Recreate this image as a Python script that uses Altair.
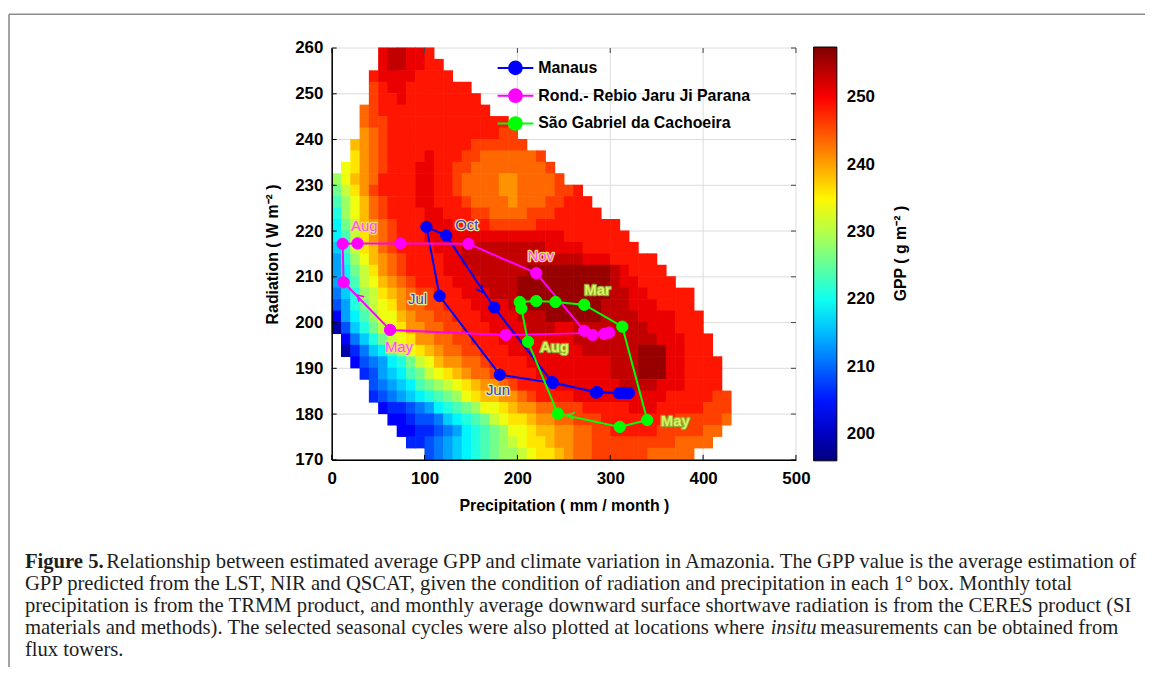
import altair as alt
import pandas as pd

# ---------------- values ----------------
SITES = ["Manaus", "Rond.- Rebio Jaru Ji Parana", "São Gabriel da Cachoeira"]
SITE_COLORS = ["#0000ff", "#ff00ff", "#00ff00"]

# seasonal cycles (precipitation mm/month, radiation W m-2), in plotting order
MANAUS_PRECIP = [181.0, 116.2, 102.0, 123.3, 175.0, 237.4, 284.5, 309.4, 320.0, 315.0, 286.0, 238.0]
MANAUS_RAD = [188.6, 205.8, 220.9, 219.0, 203.3, 187.0, 184.7, 184.6, 184.6, 184.6, 184.8, 186.8]

ROND_PRECIP = [62.8, 12.8, 11.8, 27.8, 74.1, 147.3, 220.3, 272.0, 281.0, 293.4, 298.7, 187.5]
ROND_RAD = [198.4, 208.8, 217.2, 217.3, 217.3, 217.2, 210.8, 198.2, 197.3, 197.5, 197.8, 197.3]

SG_PRECIP = [339.8, 310.2, 243.5, 211.4, 204.3, 202.5, 220.3, 241.0, 272.0, 313.0]
SG_RAD = [178.7, 177.2, 180.1, 195.8, 203.1, 204.5, 204.7, 204.5, 203.9, 199.1]

# month labels
MANAUS_LABELS = ["Oct", "Jul", "Jun"]
MANAUS_LABEL_P = [145.5, 92.5, 179.0]
MANAUS_LABEL_R = [221.3, 205.1, 185.2]
ROND_LABELS = ["Aug", "May", "Nov"]
ROND_LABEL_P = [35.0, 72.4, 225.0]
ROND_LABEL_R = [221.1, 194.7, 214.6]
SG_LABELS = ["Mar", "Aug", "May"]
SG_LABEL_P = [286.3, 239.9, 370.0]
SG_LABEL_R = [207.2, 194.6, 178.5]

# direction arrows on the cycles (position, heading in degrees on screen)
ARROW_P = [160.4, 29.6, 257.8]
ARROW_R = [207.2, 205.6, 179.7]
ARROW_ANGLE = [56, 226, 192]

X_TICKS = [0, 100, 200, 300, 400, 500]
Y_TICKS = [170, 180, 190, 200, 210, 220, 230, 240, 250, 260]
GPP_TICKS = [200, 210, 220, 230, 240, 250]
GPP_DOMAIN = [196, 257.5]

# GPP surface, cells of 10 mm/month x 2.5 W m-2, rows from 260 W m-2 downward.
# letters a..y = 196, 198.5, ... 256 g m-2 ; '.' = no data
GPP_LEVEL_CHARS = "abcdefghijklmnopqrstuvwxy"
GPP_LEVEL_BASE = 196.0
GPP_LEVEL_STEP = 2.5
GPP_ROWS = [
    "....." + "wxxwwv" + "." * 33,
    "....." + "wxxwwvv" + "." * 32,
    "...." + "vwwwwvvvv" + "." * 31,
    "...." + "uvwwvvvvvvv" + "." * 29,
    "...." + "uvvwvvvvvvvv" + "." * 28,
    "..." + "tuvvvvvvvvvvvv" + "." * 27,
    "..." + "tuuvvvvvvvvvvvvv" + "." * 25,
    "..." + "stu" + "v" * 12 + "uu" + "." * 24,
    ".." + "rstu" + "v" * 9 + "uuuuuu" + "." * 23,
    ".." + "qstu" + "vvvv" + "w" + "vvv" + "uu" + "tttttt" + "u" + "." * 21,
    "." + "pqstu" + "vvv" + "ww" + "vv" + "uu" + "tttttttt" + "u" + "." * 20,
    "nprst" + "vvvv" + "ww" + "vv" + "u" + "tt" + "ttsstt" + "tt" + "u" + "." * 19,
    "moqsu" + "vvvv" + "ww" + "vv" + "u" + "tt" + "ttsstt" + "tt" + "uu" + "v" + "." * 17,
    "lnprtu" + "vvv" + "ww" + "vvv" + "u" + "ttt" + "tst" + "tt" + "uu" + "vvv" + "." * 16,
    "knprtu" + "vvvv" + "ww" + "vvv" + "uu" + "tttt" + "uuu" + "vvvvv" + "." * 15,
    "jmorstu" + "vvv" + "www" + "vvvv" + "uuuuu" + "v" * 9 + "." * 13,
    "jloqstu" + "vvv" + "w" * 15 + "v" * 7 + "." * 12,
    "iloqrtu" + "vvvv" + "www" + "x" * 9 + "wwww" + "v" * 6 + "." * 11,
    "hknprstu" + "vvvv" + "ww" + "x" * 13 + "www" + "v" * 5 + "." * 9,
    "hjmoqstu" + "vvvv" + "www" + "x" * 6 + "y" * 9 + "x" + "w" + "vvvv" + "." * 8,
    "hjloprstu" + "vvvv" + "www" + "x" * 4 + "y" * 10 + "x" + "ww" + "vvvv" + "." * 7,
    "giknoqrstuu" + "vvv" + "www" + "x" * 3 + "y" * 10 + "xx" + "ww" + "vvvvv" + "." * 5,
    "fhkmopqsttuu" + "vvv" + "wwww" + "x" * 2 + "y" * 8 + "xxx" + "www" + "vvvv" + "." * 5,
    "dhjlnpprsttuu" + "vvv" + "wwww" + "x" * 3 + "y" * 6 + "x" * 4 + "wwww" + "vvv" + "." * 4,
    "bfikmopqsstt" + "uu" + "vvv" + "wwww" + "xxx" + "ww" + "x" * 8 + "www" + "vvv" + "." * 4,
    "." + "dgikmopqsstt" + "uu" + "vvv" + "w" * 8 + "x" * 9 + "www" + "vvv" + "." * 3,
    "." + "begijlnpqrstt" + "uu" + "vvv" + "w" * 8 + "x" * 6 + "yyy" + "ww" + "vvv" + "." * 3,
    ".." + "dfghjkmoprssttu" + "vvvv" + "w" * 9 + "xxx" + "yyy" + "ww" + "vvvv" + "..",
    "..." + "efhijlmopqrsttu" + "vvvv" + "w" * 8 + "xxx" + "yyy" + "ww" + "vvvv" + "..",
    "...." + "fghijlmnopqrsstu" + "vvvv" + "w" * 7 + "xxxx" + "www" + "vvvv" + "..",
    "...." + "efghijklmnpqrrsstu" + "vvvv" + "w" * 10 + "v" * 5 + "uu" + ".",
    "....." + "deefghjklmnppqrssttuuu" + "v" * 5 + "www" + "v" * 5 + "uuu" + ".",
    "......" + "ddeffgijklmopqqrssttuuu" + "v" * 8 + "uuuuu" + "t" + ".",
    "......." + "ddeefghjklmnppqrrssttuu" + "vvvvv" + "uuuuu" + "tt" + "..",
    "........" + "eefghijklmnopqqrssttuu" + "u" * 7 + "tttt" + "...",
    ".........." + "fghijklmnnopqqrsttuu" + "uuuu" + "ttttt" + ".....",
]
CELL_P = 10
CELL_R = 2.5
TOP_R = 260

CAPTION_BOLD = "Figure 5."
CAPTION_LINE1 = "Relationship between estimated average GPP and climate variation in Amazonia. The GPP value is the average estimation of"
CAPTION_LINE2 = "GPP predicted from the LST, NIR and QSCAT, given the condition of radiation and precipitation in each 1° box. Monthly total"
CAPTION_LINE3 = "precipitation is from the TRMM product, and monthly average downward surface shortwave radiation is from the CERES product (SI"
CAPTION_LINE4A = "materials and methods). The selected seasonal cycles were also plotted at locations where"
CAPTION_ITALIC = "insitu"
CAPTION_LINE4B = "measurements can be obtained from"
CAPTION_LINE5 = "flux towers."

# ---------------- styling ----------------
SANS = "Liberation Sans"
SERIF = "Liberation Serif"
JET = ["#00007f", "#0000ff", "#007fff", "#00ffff", "#7fff7f",
       "#ffff00", "#ff7f00", "#ff0000", "#7f0000"]
W, H = 467.5, 414.7
CAP = 20.8

xs = alt.Scale(domain=[0, 500], nice=False, zero=False)
ys = alt.Scale(domain=[170, 260], nice=False, zero=False)
site_scale = alt.Scale(domain=SITES, range=SITE_COLORS)

# ---------------- tables ----------------
levels = {ch: GPP_LEVEL_BASE + GPP_LEVEL_STEP * i for i, ch in enumerate(GPP_LEVEL_CHARS)}
cells = []
for r, row in enumerate(GPP_ROWS):
    for c, ch in enumerate(row):
        if ch in levels:
            cells.append({"p0": c * CELL_P, "p1": (c + 1) * CELL_P,
                          "r1": TOP_R - r * CELL_R, "r0": TOP_R - (r + 1) * CELL_R,
                          "gpp": levels[ch]})
heat_df = pd.DataFrame(cells)

one = pd.DataFrame({"a": [0]})
xt_df = pd.DataFrame({"v": X_TICKS})
yt_df = pd.DataFrame({"v": Y_TICKS})

xaxis = alt.Axis(values=X_TICKS, title="Precipitation ( mm / month )", grid=False, ticks=False,
                 domainColor="black", domainWidth=1.5, labelFont=SANS, labelFontSize=17,
                 labelFontWeight="bold", labelColor="black", labelPadding=11, labelFlush=False,
                 titleFont=SANS, titleFontSize=16, titleFontWeight="bold", titleColor="black",
                 titlePadding=11, zindex=1)
yaxis = alt.Axis(values=Y_TICKS, title="Radiation ( W m⁻² )", grid=False, ticks=False,
                 domainColor="black", domainWidth=1.5, labelFont=SANS, labelFontSize=17,
                 labelFontWeight="bold", labelColor="black", labelPadding=9, labelFlush=False,
                 titleFont=SANS, titleFontSize=16, titleFontWeight="bold", titleColor="black",
                 titlePadding=14, zindex=1)


def X(field):
    return alt.X(field, scale=xs, axis=xaxis)


def Y(field):
    return alt.Y(field, scale=ys, axis=yaxis)


# gridlines (under the surface)
grid_x = alt.Chart(xt_df).mark_rule(color="#dcdcdc", strokeWidth=1).encode(x=X("v:Q"))
grid_y = alt.Chart(yt_df).mark_rule(color="#dcdcdc", strokeWidth=1).encode(y=Y("v:Q"))

# inward tick marks on the four sides of the box
TICK = 5
ticks = [
    alt.Chart(xt_df).mark_rule(color="black", strokeWidth=1).encode(
        x=X("v:Q"), y=alt.value(H), y2=alt.value(H - TICK)),
    alt.Chart(xt_df).mark_rule(color="#444444", strokeWidth=1).encode(
        x=X("v:Q"), y=alt.value(0), y2=alt.value(TICK)),
    alt.Chart(yt_df).mark_rule(color="black", strokeWidth=1).encode(
        y=Y("v:Q"), x=alt.value(0), x2=alt.value(TICK)),
    alt.Chart(yt_df).mark_rule(color="#444444", strokeWidth=1).encode(
        y=Y("v:Q"), x=alt.value(W), x2=alt.value(W - TICK)),
]

CB_X, CB_Y, CB_W, CB_H = 485.3, -1, 23.4, 416.7
gpp_legend = alt.Legend(orient="none", legendX=CB_X, legendY=CB_Y, direction="vertical",
                        gradientLength=CB_H, gradientThickness=CB_W, values=GPP_TICKS,
                        title=None,
                        labelFont=SANS, labelFontSize=17, labelFontWeight="bold",
                        labelColor="black", labelOffset=10, labelOverlap=False,
                        gradientStrokeColor="black", gradientStrokeWidth=1, padding=0)

heat = alt.Chart(heat_df).mark_rect(x2Offset=0.6, y2Offset=-0.6).encode(
    x=X("p0:Q"),
    x2="p1:Q",
    y=Y("r0:Q"),
    y2="r1:Q",
    color=alt.Color("gpp:Q", scale=alt.Scale(domain=GPP_DOMAIN, range=JET, interpolate="rgb"),
                    legend=gpp_legend),
)

# colour-bar title
gpp_title = alt.Chart(one).mark_text(font=SANS, fontSize=16, fontWeight="bold", angle=270,
                                     align="center", baseline="middle", color="black").encode(
    x=alt.value(573), y=alt.value(207), text=alt.value("GPP ( g m⁻² )"))

LEG_PATH = "M-2,0L2,0M0.71,0A0.71,0.71,0,1,1,-0.71,0A0.71,0.71,0,1,1,0.71,0Z"
site_legend = alt.Legend(title=None, orient="none", legendX=175, legendY=10,
                         symbolType=LEG_PATH, symbolSize=324, symbolStrokeWidth=2,
                         symbolOpacity=1, labelFont=SANS, labelFontSize=16,
                         labelFontWeight="bold", labelColor="black", labelOffset=13,
                         labelLimit=400, rowPadding=6, padding=0)


def site_layers(i, precip, rad):
    n = len(precip)
    df = pd.DataFrame({"site": SITES[i], "P": precip, "R": rad, "k": list(range(n))})
    path = pd.concat([df, df.iloc[[0]].assign(k=n)], ignore_index=True)
    line = alt.Chart(path).mark_line(strokeWidth=2).encode(
        x=X("P:Q"),
        y=Y("R:Q"),
        order="k:Q",
        stroke=alt.Stroke("site:N", scale=site_scale, legend=site_legend),
    )
    pts = alt.Chart(df).mark_point(filled=True, size=130, opacity=1, strokeWidth=1).encode(
        x=X("P:Q"),
        y=Y("R:Q"),
        fill=alt.Fill("site:N", scale=site_scale, legend=site_legend),
        stroke=alt.Stroke("site:N", scale=site_scale, legend=site_legend),
    )
    return [line, pts]


CHEVRON = "M-0.7,-0.8L0.6,0L-0.7,0.8"


def arrow(i, color):
    df = pd.DataFrame({"P": [ARROW_P[i]], "R": [ARROW_R[i]]})
    return alt.Chart(df).mark_point(shape=CHEVRON, filled=False, size=90, strokeWidth=1.5,
                                    opacity=1, angle=ARROW_ANGLE[i], stroke=color).encode(
        x=X("P:Q"), y=Y("R:Q"))


def labels(texts, ps, rs, fill, halo, weight):
    df = pd.DataFrame({"t": texts, "P": ps, "R": rs})
    enc = dict(x=X("P:Q"), y=Y("R:Q"), text="t:N")
    h = alt.Chart(df).mark_text(font=SANS, fontSize=15, fontWeight=weight, stroke=halo,
                                strokeWidth=2.5, fill=halo, strokeJoin="round").encode(**enc)
    f = alt.Chart(df).mark_text(font=SANS, fontSize=15, fontWeight=weight, fill=fill).encode(**enc)
    return [h, f]


def caption(text, x, y, weight="normal", style="normal", align="left"):
    return alt.Chart(one).mark_text(font=SERIF, fontSize=CAP, fontWeight=weight, fontStyle=style,
                                    align=align, baseline="middle", color="#1e1e1e").encode(
        x=alt.value(x), y=alt.value(y), text=alt.value(text))


frame_left = alt.Chart(one).mark_rule(color="#8c8c8c", strokeWidth=1.6).encode(
    x=alt.value(-325), y=alt.value(-34), y2=alt.value(640))
frame_top = alt.Chart(one).mark_rule(color="#8c8c8c", strokeWidth=1.6).encode(
    x=alt.value(-325), x2=alt.value(830), y=alt.value(-34))

layers = [grid_x, grid_y, heat, gpp_title]
layers += site_layers(0, MANAUS_PRECIP, MANAUS_RAD)
layers += site_layers(1, ROND_PRECIP, ROND_RAD)
layers += site_layers(2, SG_PRECIP, SG_RAD)
layers += [arrow(0, "#0000ff"), arrow(1, "#ff00ff"), arrow(2, "#33dd33")]
layers += labels(MANAUS_LABELS, MANAUS_LABEL_P, MANAUS_LABEL_R, "#3b3bd0", "#f0e890", "normal")
layers += labels(ROND_LABELS, ROND_LABEL_P, ROND_LABEL_R, "#ff4dff", "#f4dc70", "normal")
layers += labels(SG_LABELS, SG_LABEL_P, SG_LABEL_R, "#d8f55a", "#93a83a", "bold")
layers += ticks
layers += [
    caption(CAPTION_BOLD, -309, 518, weight="bold"),
    caption(CAPTION_LINE1, -227, 518),
    caption(CAPTION_LINE2, -309, 540),
    caption(CAPTION_LINE3, -309, 562),
    caption(CAPTION_LINE4A, -309, 584),
    caption(CAPTION_ITALIC, 442, 584, style="italic"),
    caption(CAPTION_LINE4B, 492, 584),
    caption(CAPTION_LINE5, -309, 606),
    frame_left, frame_top,
]
main = alt.layer(*layers)

# small tick marks on both edges of the colour bar
cb_scale = alt.Scale(domain=GPP_DOMAIN, range=[CB_Y + CB_H, CB_Y])
cb_df = pd.DataFrame({"g": GPP_TICKS})
cb_ticks_left = alt.Chart(cb_df).mark_rule(color="black", strokeWidth=1).encode(
    y=alt.Y("g:Q", scale=cb_scale, axis=None), x=alt.value(CB_X), x2=alt.value(CB_X + 4))
cb_ticks_right = alt.Chart(cb_df).mark_rule(color="black", strokeWidth=1).encode(
    y=alt.Y("g:Q", scale=cb_scale, axis=None), x=alt.value(CB_X + CB_W - 4),
    x2=alt.value(CB_X + CB_W))

chart = alt.layer(main, cb_ticks_left, cb_ticks_right).resolve_scale(y="independent").properties(
    width=W, height=H,
    autosize=alt.AutoSizeParams(type="none"),
    padding={"left": 326, "top": 38, "right": 351.5, "bottom": 206},
).configure_view(stroke=None)

chart.save("out.html", embed_options={"renderer": "svg", "actions": False})
